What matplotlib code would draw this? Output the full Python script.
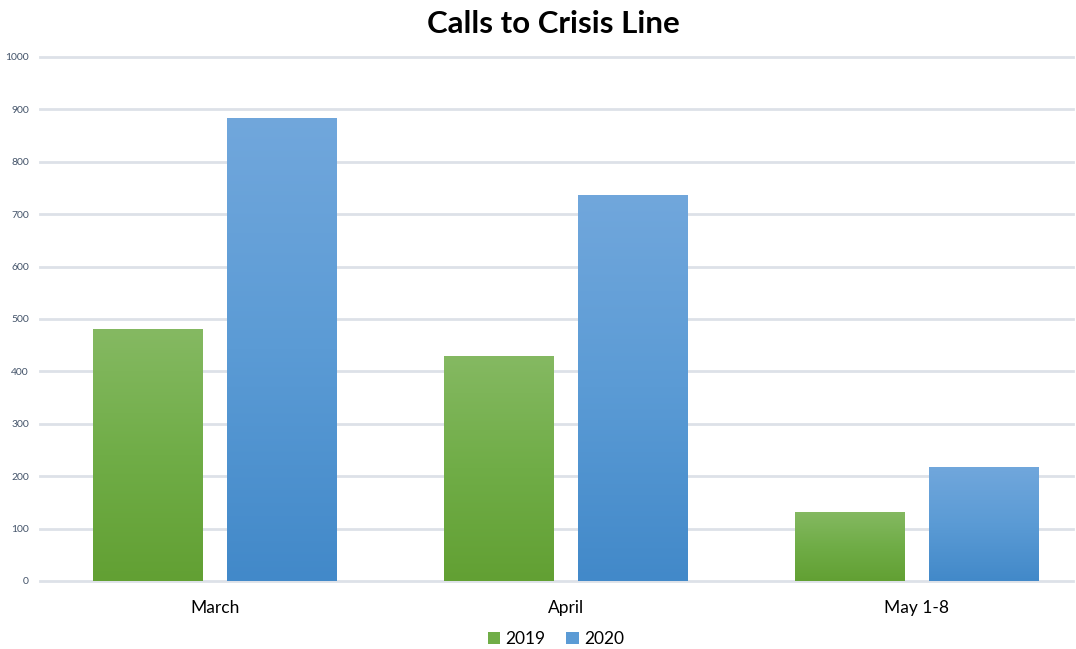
import matplotlib
matplotlib.use('Agg')
import matplotlib.pyplot as plt
import numpy as np
from matplotlib.colors import LinearSegmentedColormap
from matplotlib.patches import Patch

categories = ['March', 'April', 'May 1-8']
series_names = ['2019', '2020']
calls_2019 = [480, 430, 132]
calls_2020 = [884, 737, 218]
y_ticks = list(range(0, 1001, 100))

# excel style gradients: light top, base colour middle, darker bottom
green_grad = LinearSegmentedColormap.from_list('g', ['#62a033', '#70ad47', '#85b962'])
blue_grad = LinearSegmentedColormap.from_list('b', ['#4289c9', '#5b9bd5', '#71a7dc'])

plt.rcParams['font.family'] = ['Lato', 'DejaVu Sans']

fig = plt.figure(figsize=(10.76, 6.49), dpi=100)
ax = fig.add_axes([40 / 1076, 68 / 649, 1052 / 1076, 524 / 649])

x = np.arange(len(categories))
w = 0.313
off = 0.194

bars19 = ax.bar(x - off + 0.003, calls_2019, w, color='#70ad47', zorder=3)
bars20 = ax.bar(x + off - 0.003, calls_2020, w, color='#5b9bd5', zorder=3)

grad = np.linspace(0, 1, 256).reshape(-1, 1)
for bars, cmap in [(bars19, green_grad), (bars20, blue_grad)]:
    for b in bars:
        x0, y0 = b.get_x(), b.get_y()
        x1, y1 = x0 + b.get_width(), y0 + b.get_height()
        im = ax.imshow(grad, cmap=cmap, extent=[x0, x1, y0, y1], origin='lower',
                       aspect='auto', zorder=4)
        im.set_clip_path(b)

ax.set_xlim(-0.5, 2.5)
ax.set_ylim(0, 1000)
ax.set_yticks(y_ticks)
ax.set_yticklabels([str(t) for t in y_ticks], fontsize=7.5, color='#44546a')
ax.set_xticks(x)
ax.set_xticklabels(categories, fontsize=12.5, color='#000000')
ax.tick_params(axis='both', length=0)
ax.tick_params(axis='y', pad=8)
ax.tick_params(axis='x', pad=14)

for t in y_ticks:
    ax.axhline(t, xmax=0.982, color='#dde1e8', lw=2, zorder=1, clip_on=False)

for s in ax.spines.values():
    s.set_visible(False)

fig.text(553 / 1076, 1 - 24 / 649, 'Calls to Crisis Line', ha='center', va='center',
         fontsize=22.5, fontweight='bold')

handles = [Patch(facecolor='#70ad47', label='2019'), Patch(facecolor='#5b9bd5', label='2020')]
fig.legend(handles=handles, loc='center', bbox_to_anchor=(556 / 1076, 1 - 639 / 649),
           ncol=2, frameon=False, fontsize=12.5, handlelength=0.7, handleheight=0.7,
           handletextpad=0.3, columnspacing=1.2)

fig.savefig('out.png', dpi=100)
